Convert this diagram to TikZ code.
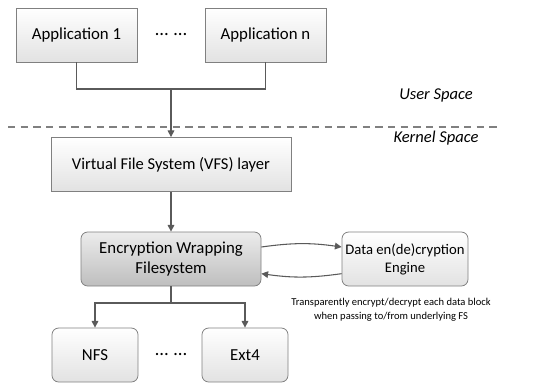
\documentclass[tikz,border=0pt]{standalone}
\usepackage{fontspec}
\setmainfont{Carlito}
\usetikzlibrary{arrows.meta}

\definecolor{boxline}{RGB}{128,128,128}
\definecolor{linkline}{RGB}{90,90,90}
\definecolor{boxlow}{RGB}{226,226,226}
\definecolor{ewftop}{RGB}{236,236,236}
\definecolor{ewflow}{RGB}{190,190,190}

\tikzset{
  layerbox/.style={draw=boxline, line width=0.6pt, top color=white, bottom color=boxlow,
    minimum height=40.5pt, inner sep=2pt, align=center, font=\fontsize{12.6}{14.5}\selectfont},
  roundbox/.style={layerbox, rounded corners=5pt},
  flow/.style={draw=linkline, line width=0.8pt, -{Triangle[length=5pt,width=5pt]}},
  link/.style={draw=linkline, line width=0.8pt},
  dots/.style={font=\fontsize{14}{15}\selectfont},
  spacelabel/.style={font=\itshape\fontsize{12.4}{14}\selectfont}
}

\begin{document}
\begin{tikzpicture}[x=0.75pt,y=0.75pt,yscale=-1,xscale=1]
  \path[use as bounding box] (0,0) rectangle (546,383);

  % user space
  \node[layerbox, minimum width=90.75pt] (app1) at (76.5,35) {Application 1};
  \node[layerbox, minimum width=90.75pt] (appn) at (265.5,35) {Application n};
  \node[dots] (appdots) at (171,35) {…\hspace{0.3em}…};
  \coordinate (join) at (171,89);

  \node[spacelabel] (user) at (436,95) {User Space};
  \draw[boxline, line width=0.8pt, dash pattern=on 5.5pt off 4pt] (8,127) -- (498,127);
  \node[spacelabel] (kernel) at (436,138) {Kernel Space};

  % kernel space
  \node[layerbox, minimum width=180pt, font=\fontsize{12.4}{14}\selectfont] (vfs) at (171,164.5)
    {Virtual File System (VFS) layer};
  \node[roundbox, minimum width=135pt, top color=ewftop, bottom color=ewflow] (ewf) at (171,259)
    {Encryption Wrapping\\Filesystem};
  \node[roundbox, minimum width=94.5pt, font=\fontsize{11}{13.5}\selectfont] (engine) at (405,259)
    {Data en(de)cryption\\Engine};
  \node[align=center, font=\fontsize{7.9}{10.5}\selectfont] (note) at (391,310)
    {Transparently encrypt/decrypt each data block\\when passing to/from underlying FS};

  \node[roundbox, minimum width=64.5pt] (nfs) at (95,355) {NFS};
  \node[roundbox, minimum width=64.5pt] (ext) at (245,355) {Ext4};
  \node[dots] (fsdots) at (171,355) {…\hspace{0.3em}…};
  \coordinate (split) at (171,303);

  % connectors
  \draw[link] (app1.south) |- (join) -| (appn.south);
  \draw[flow] (join) -- (vfs.north);
  \draw[flow] (vfs.south) -- (ewf.north);
  \draw[flow] ([yshift=-9pt]ewf.east) to[bend right=8] ([yshift=-9pt]engine.west);
  \draw[flow] ([yshift=11pt]engine.west) to[bend right=8] ([yshift=11pt]ewf.east);
  \draw[link] (ewf.south) -- (split);
  \draw[flow] (split) -| (nfs.north);
  \draw[flow] (split) -| (ext.north);
\end{tikzpicture}
\end{document}
